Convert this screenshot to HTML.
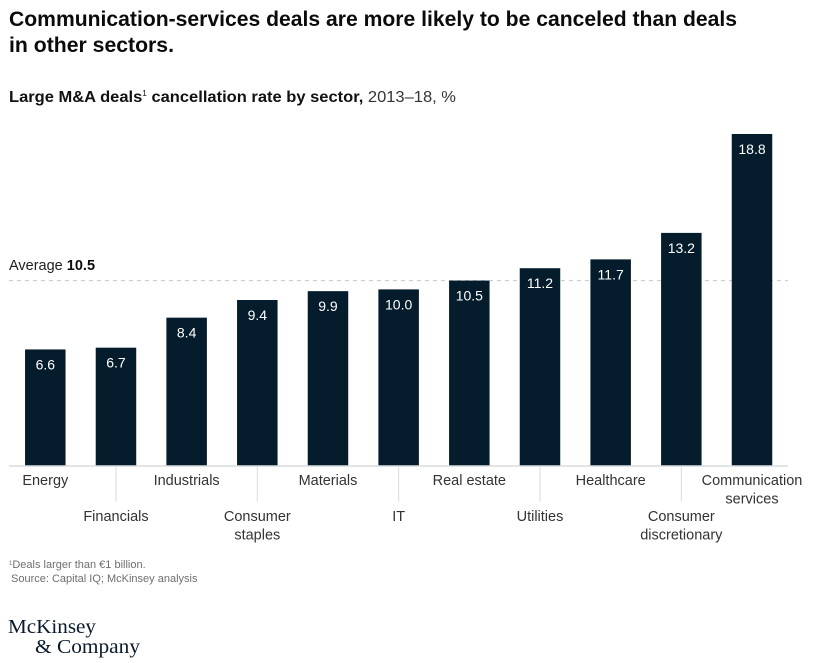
<!DOCTYPE html>
<html lang="en">
<head>
<meta charset="utf-8">
<title>Large M&amp;A deals cancellation rate by sector</title>
<style>
html,body{margin:0;padding:0;background:#fff;width:819px;height:663px;overflow:hidden}
svg{display:block}
text{font-family:"Liberation Sans",sans-serif}
</style>
</head>
<body>
<svg id="chart" xmlns="http://www.w3.org/2000/svg" width="819" height="663" viewBox="0 0 819 663">
  <text x="9" y="26" font-size="21" font-weight="700" fill="#0b0b0b" textLength="728" lengthAdjust="spacingAndGlyphs">Communication-services deals are more likely to be canceled than deals</text>
  <text x="9" y="52" font-size="21" font-weight="700" fill="#0b0b0b" textLength="165" lengthAdjust="spacingAndGlyphs">in other sectors.</text>
  <text x="9" y="102" font-size="16" fill="#111" textLength="447" lengthAdjust="spacingAndGlyphs"><tspan font-weight="700">Large M&amp;A deals</tspan><tspan font-size="8" dy="-6">1</tspan><tspan font-weight="700" dy="6"> cancellation rate by sector,</tspan><tspan fill="#333"> 2013–18, %</tspan></text>
  <text x="9" y="270" font-size="14.5" fill="#222">Average <tspan font-weight="700" fill="#0b0b0b">10.5</tspan></text>
  <line id="avgLine" x1="9" x2="788" stroke="#c4c8cc" stroke-width="1" stroke-dasharray="4 4"/>
  <g id="bars"></g>
  <line id="axisLine" x1="9" x2="788" stroke="#d9dbdd" stroke-width="1.5"/>
  <g id="xlabels"></g>
  <text x="9" y="568" font-size="11" fill="#6d6f71"><tspan font-size="6" dy="-3">1</tspan><tspan dy="3">Deals larger than €1 billion.</tspan></text>
  <text x="11" y="582" font-size="11" fill="#6d6f71">Source: Capital IQ; McKinsey analysis</text>
  <text x="8" y="633" font-size="20.5" fill="#0b1a2a" style="font-family:'Liberation Serif',serif" textLength="88" lengthAdjust="spacingAndGlyphs">McKinsey</text>
  <text x="35" y="653" font-size="20.5" fill="#0b1a2a" style="font-family:'Liberation Serif',serif" textLength="105" lengthAdjust="spacingAndGlyphs">&amp; Company</text>
</svg>
<script>
const categories = ["Energy", "Financials", "Industrials", "Consumer staples", "Materials", "IT", "Real estate", "Utilities", "Healthcare", "Consumer discretionary", "Communication services"];
const cancellationRates = [6.6, 6.7, 8.4, 9.4, 9.9, 10.0, 10.5, 11.2, 11.7, 13.2, 18.8];
const averageRate = [10.5];

const NS = "http://www.w3.org/2000/svg";
const baseY = 466;
const pxPerUnit = 17.66;
const firstCenter = 45.3;
const step = 70.67;
const barWidth = 40.5;
const wrapAboveChars = 11;
function yScale(v) { return baseY - v * pxPerUnit; }
function xScale(i) { return firstCenter + i * step; }

const avgLine = document.getElementById("avgLine");
avgLine.setAttribute("y1", yScale(averageRate[0]));
avgLine.setAttribute("y2", yScale(averageRate[0]));
const axisLine = document.getElementById("axisLine");
axisLine.setAttribute("y1", baseY);
axisLine.setAttribute("y2", baseY);

const barsGroup = document.getElementById("bars");
const labelsGroup = document.getElementById("xlabels");

cancellationRates.forEach(function (value, i) {
  const cx = xScale(i);
  const top = yScale(value);

  const rect = document.createElementNS(NS, "rect");
  
  
  rect.setAttribute("x", cx - barWidth / 2);
  rect.setAttribute("y", top);
  rect.setAttribute("width", barWidth);
  rect.setAttribute("height", baseY - top);
  rect.setAttribute("fill", "#051c2c");
  barsGroup.appendChild(rect);

  const valueText = document.createElementNS(NS, "text");
  
  
  valueText.setAttribute("x", cx);
  valueText.setAttribute("y", top + 20);
  valueText.setAttribute("text-anchor", "middle");
  valueText.setAttribute("font-size", "14");
  valueText.setAttribute("fill", "#ffffff");
  valueText.textContent = value.toFixed(1);
  barsGroup.appendChild(valueText);

  const lower = i % 2 === 1;
  if (lower) {
    const tick = document.createElementNS(NS, "line");
    
    
    tick.setAttribute("x1", cx);
    tick.setAttribute("x2", cx);
    tick.setAttribute("y1", baseY);
    tick.setAttribute("y2", baseY + 36);
    tick.setAttribute("stroke", "#d9dbdd");
    tick.setAttribute("stroke-width", "1");
    labelsGroup.appendChild(tick);
  }

  const name = categories[i];
  const lines = name.length > wrapAboveChars ? name.split(" ") : [name];
  const firstY = lower ? 521 : 485;
  lines.forEach(function (line, w) {
    const label = document.createElementNS(NS, "text");
    
    
    label.setAttribute("x", cx);
    label.setAttribute("y", firstY + w * 18.5);
    label.setAttribute("text-anchor", "middle");
    label.setAttribute("font-size", "14.5");
    label.setAttribute("fill", "#333333");
    label.textContent = line;
    labelsGroup.appendChild(label);
  });
});
</script>
</body>
</html>
